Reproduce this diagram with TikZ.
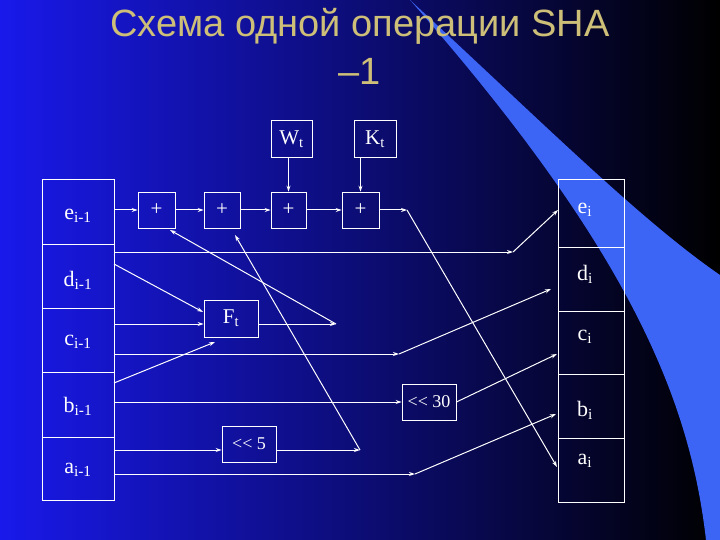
\documentclass[tikz,border=0pt]{standalone}
\usepackage{fontspec}
\setmainfont{Liberation Serif}
\newfontfamily\titlefont{Liberation Sans}
\usetikzlibrary{arrows.meta}
\definecolor{bgblue}{RGB}{25,25,235}
\definecolor{swoosh}{RGB}{60,100,245}
\definecolor{titlec}{RGB}{205,190,120}
\tikzset{
 x=1pt,y=-1pt,
 cell/.style={text=white,font=\fontsize{22}{22}\selectfont},
 opbox/.style={draw=white,line width=0.8pt,text=white,font=\fontsize{21}{21}\selectfont,inner sep=0pt},
 wire/.style={draw=white,line width=1pt,-{Stealth[length=6pt,width=4pt]}},
 frame/.style={draw=white,line width=1pt}
}
\begin{document}
\begin{tikzpicture}
\useasboundingbox (0,0) rectangle (720,540);
\shade[left color=bgblue,right color=black] (0,0) rectangle (720,540);
\fill[swoosh] (410,0) .. controls (540,120) and (640,220) .. (720,275) -- (720,540) -- (706,540) .. controls (690,400) and (630,250) .. (410,0);
\node[text=titlec,font=\titlefont\fontsize{38}{48}\selectfont,align=center] (title) at (360,46) {Схема одной операции SHA\\ –1};
\foreach \tp/\yy in {180/244,244/308,308/372,372/437,437/500}{
 \draw[frame] (42,\tp) rectangle (114,\yy);
}
\node[cell] (Le) at (78,216) {e\textsubscript{i-1}};
\node[cell] (Ld) at (78,280) {d\textsubscript{i-1}};
\node[cell] (Lc) at (78,342) {c\textsubscript{i-1}};
\node[cell] (Lb) at (78,406) {b\textsubscript{i-1}};
\node[cell] (La) at (78,470) {a\textsubscript{i-1}};
\foreach \tp/\yy in {180/247,247/311,311/374,374/438,438/502}{
 \draw[frame] (558,\tp) rectangle (624,\yy);
}
\node[cell] (Re) at (585,210) {e\textsubscript{i}};
\node[cell] (Rd) at (585,274) {d\textsubscript{i}};
\node[cell] (Rc) at (585,337) {c\textsubscript{i}};
\node[cell] (Rb) at (585,410) {b\textsubscript{i}};
\node[cell] (Ra) at (585,461) {a\textsubscript{i}};
\node[opbox,minimum width=37pt,minimum height=36pt] (p1) at (156.5,210) {+};
\node[opbox,minimum width=36pt,minimum height=36pt] (p2) at (222,210) {+};
\node[opbox,minimum width=35pt,minimum height=36pt] (p3) at (288.5,210) {+};
\node[opbox,minimum width=37pt,minimum height=36pt] (p4) at (360.5,210) {+};
\node[opbox,minimum width=41pt,minimum height=37pt] (W) at (291.5,139) {W\textsubscript{t}};
\node[opbox,minimum width=42pt,minimum height=37pt] (K) at (375,139) {K\textsubscript{t}};
\node[opbox,minimum width=54pt,minimum height=37pt] (F) at (231,318.5) {F\textsubscript{t}};
\node[opbox,minimum width=54pt,minimum height=36pt,font=\fontsize{18}{18}\selectfont] (s30) at (429,402) {<{}< 30};
\node[opbox,minimum width=54pt,minimum height=36pt,font=\fontsize{18}{18}\selectfont] (s5) at (249,444) {<{}< 5};
\coordinate (le0) at (114,210); \coordinate (e4) at (407,210); \coordinate (ai) at (557,467);
\coordinate (d0) at (114,252); \coordinate (d1) at (513,252); \coordinate (ei) at (558,210);
\coordinate (dF0) at (114,264); \coordinate (dF1) at (203,312);
\coordinate (c0) at (114,324); \coordinate (Fo) at (336,324); \coordinate (p1b) at (170,230);
\coordinate (c2) at (114,354); \coordinate (c3) at (399,354); \coordinate (di) at (551,289);
\coordinate (b0) at (114,383); \coordinate (bF) at (215,342);
\coordinate (b2) at (114,402); \coordinate (ci) at (557,354);
\coordinate (a0) at (114,450); \coordinate (s5o) at (360,450); \coordinate (p2b) at (235,235);
\coordinate (a2) at (114,474); \coordinate (a3) at (415,474); \coordinate (bi) at (556,414);
\coordinate (w3) at (p3.north); \coordinate (k4) at (p4.north);
\draw[wire] (le0) -- (p1);
\draw[wire] (p1) -- (p2);
\draw[wire] (p2) -- (p3);
\draw[wire] (p3) -- (p4);
\draw[wire] (W.south-|w3) -- (w3);
\draw[wire] (K.south-|k4) -- (k4);
\draw[wire] (p4) -- (e4);
\draw[wire] (e4) -- (ai);
\draw[wire] (d0) -- (d1);
\draw[wire] (d1) -- (ei);
\draw[wire] (dF0) -- (dF1);
\draw[wire] (c0) -- (F.west|-c0);
\draw[wire] (F.east|-Fo) -- (Fo);
\draw[wire] (Fo) -- (p1b);
\draw[wire] (c2) -- (c3);
\draw[wire] (c3) -- (di);
\draw[wire] (b0) -- (bF);
\draw[wire] (b2) -- (s30.west);
\draw[wire] (s30.east) -- (ci);
\draw[wire] (a0) -- (s5.west|-a0);
\draw[wire] (s5.east|-a0) -- (s5o);
\draw[wire] (s5o) -- (p2b);
\draw[wire] (a2) -- (a3);
\draw[wire] (a3) -- (bi);
\end{tikzpicture}
\end{document}
